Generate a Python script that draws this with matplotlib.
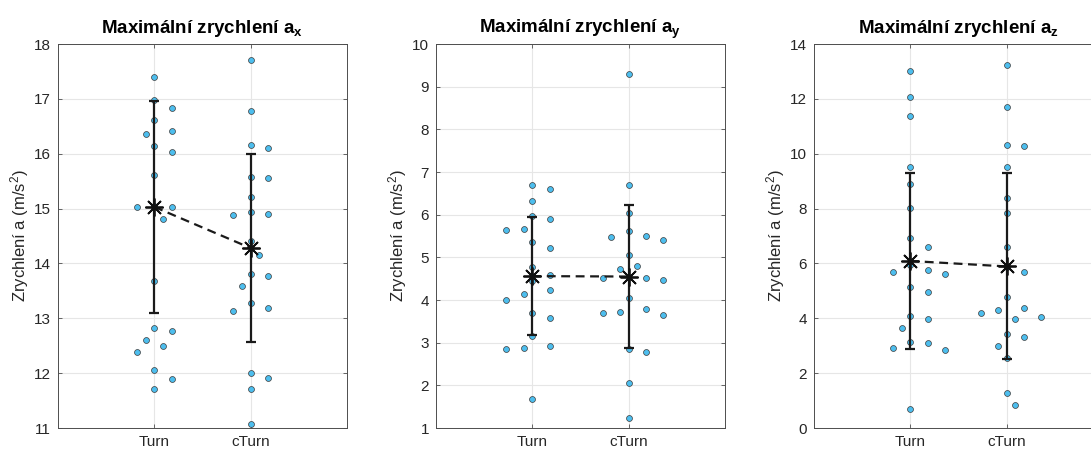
import numpy as np
import matplotlib
matplotlib.use("Agg")
import matplotlib.pyplot as plt

plt.rcParams['font.family'] = ['Liberation Sans', 'DejaVu Sans']
plt.rcParams['mathtext.fontset'] = 'custom'
plt.rcParams['mathtext.rm'] = 'Liberation Sans'
plt.rcParams['mathtext.bf'] = 'Liberation Sans:bold'
plt.rcParams['mathtext.it'] = 'Liberation Sans:italic'

# data
categories = ['Turn', 'cTurn']

ax_turn = [17.39, 16.98, 16.83, 16.61, 16.36, 16.41, 16.03, 16.14, 15.62, 15.02, 15.05,
           15.03, 14.81, 13.68, 12.83, 12.76, 12.61, 12.50, 12.38, 12.05, 11.90, 11.71]
ax_cturn = [17.70, 16.78, 16.11, 16.15, 15.58, 15.55, 15.22, 14.89, 14.93, 14.90, 14.40,
            14.15, 13.81, 13.77, 13.59, 13.27, 13.14, 13.18, 12.00, 11.92, 11.71, 11.07]

ay_turn = [6.69, 6.60, 6.31, 5.89, 5.98, 5.67, 5.64, 5.37, 5.21, 4.78, 4.44,
           4.58, 4.23, 4.15, 3.99, 3.69, 3.57, 3.16, 2.92, 2.84, 2.88, 1.67]
ay_cturn = [9.30, 6.70, 6.05, 5.61, 5.47, 5.41, 5.49, 5.06, 4.80, 4.72, 4.48,
            4.52, 4.51, 4.04, 3.64, 3.73, 3.80, 3.70, 2.78, 2.86, 2.05, 1.24]

az_turn = [13.01, 12.05, 11.38, 9.50, 8.89, 8.01, 6.94, 6.60, 5.94, 5.70, 5.76,
           5.60, 5.15, 4.95, 4.09, 3.96, 3.64, 3.10, 3.12, 2.86, 2.91, 0.68]
az_cturn = [13.22, 11.70, 10.29, 10.32, 9.50, 8.38, 7.85, 6.60, 5.88, 5.68, 4.78,
            4.30, 4.39, 4.21, 4.03, 3.97, 3.43, 3.31, 3.00, 2.57, 1.27, 0.83]

# central value (asterisk) and error bar half-length per panel
ax_center = [15.03, 14.28]
ax_err = [1.93, 1.72]
ay_center = [4.56, 4.55]
ay_err = [1.375, 1.68]
az_center = [6.09, 5.89]
az_err = [3.225, 3.39]

titles = [r'Maximální zrychlení a$_{\mathbf{x}}$',
          r'Maximální zrychlení a$_{\mathbf{y}}$',
          r'Maximální zrychlení a$_{\mathbf{z}}$']
ylims = [(11, 18), (1, 10), (0, 14)]
yticks = [np.arange(11, 19, 1), np.arange(1, 11, 1), np.arange(0, 15, 2)]
datasets = [(ax_turn, ax_cturn), (ay_turn, ay_cturn), (az_turn, az_cturn)]
centers = [ax_center, ay_center, az_center]
errs = [ax_err, ay_err, az_err]

W, H = 1091, 450
fig = plt.figure(figsize=(W / 100, H / 100), dpi=100)
lefts = [58, 436, 814]
axw, axh, axb = 289, 384, 22


def swarm(vals, ppx, ppy, step=0.09, d=14.0):
    # simple beeswarm: place each point at the closest free slot
    vals = np.asarray(vals)
    offs = np.zeros(len(vals))
    placed = []
    for i in np.argsort(-vals):
        y = vals[i] * ppy
        for k in range(40):
            c = ((k + 1) // 2) * (1 if k % 2 == 1 else -1) * step
            x = c * ppx
            if all((x - px) ** 2 + (y - py) ** 2 >= d ** 2 for px, py in placed):
                break
        offs[i] = c
        placed.append((x, y))
    return offs


for p in range(3):
    ax = fig.add_axes([lefts[p] / W, axb / H, axw / W, axh / H])
    lo, hi = ylims[p]
    ppx = axw / 3.0
    ppy = axh / (hi - lo)
    for j, vals in enumerate(datasets[p]):
        xpos = j + 1
        offs = swarm(vals, ppx, ppy)
        ax.scatter(xpos + offs, vals, s=18, color='#4DBEEE', edgecolor='#3a3a3a',
                   linewidth=0.5, zorder=3)
        ax.errorbar(xpos, centers[p][j], yerr=errs[p][j], color='#1a1a1a', lw=1.6,
                    capsize=3.5, capthick=1.6, zorder=4)
    ax.plot([1, 2], centers[p], ls='--', color='#1a1a1a', lw=1.6, dashes=(4, 2.5), zorder=5)
    ax.plot([1, 2], centers[p], ls='none', marker=(8, 2, 0), ms=13, mew=1.3,
            color='#111111', zorder=6)

    ax.set_xlim(0, 3)
    ax.set_ylim(lo, hi)
    ax.set_xticks([1, 2])
    ax.set_xticklabels(categories)
    ax.set_yticks(yticks[p])
    ax.grid(True, color='#e6e6e6', lw=0.8, zorder=0)
    ax.set_axisbelow(True)
    for s in ax.spines.values():
        s.set_color('#4d4d4d')
        s.set_linewidth(0.7)
    ax.tick_params(direction='in', length=3, width=0.6, colors='#4d4d4d',
                   labelcolor='#262626', labelsize=11, right=True, top=True, pad=5)
    ax.set_ylabel(r'Zrychlení a (m/s$^{2}$)', fontsize=12, color='#262626', labelpad=2)
    ax.set_title(titles[p], fontsize=13.5, fontweight='bold', pad=8)

fig.savefig('out.png', dpi=100)
